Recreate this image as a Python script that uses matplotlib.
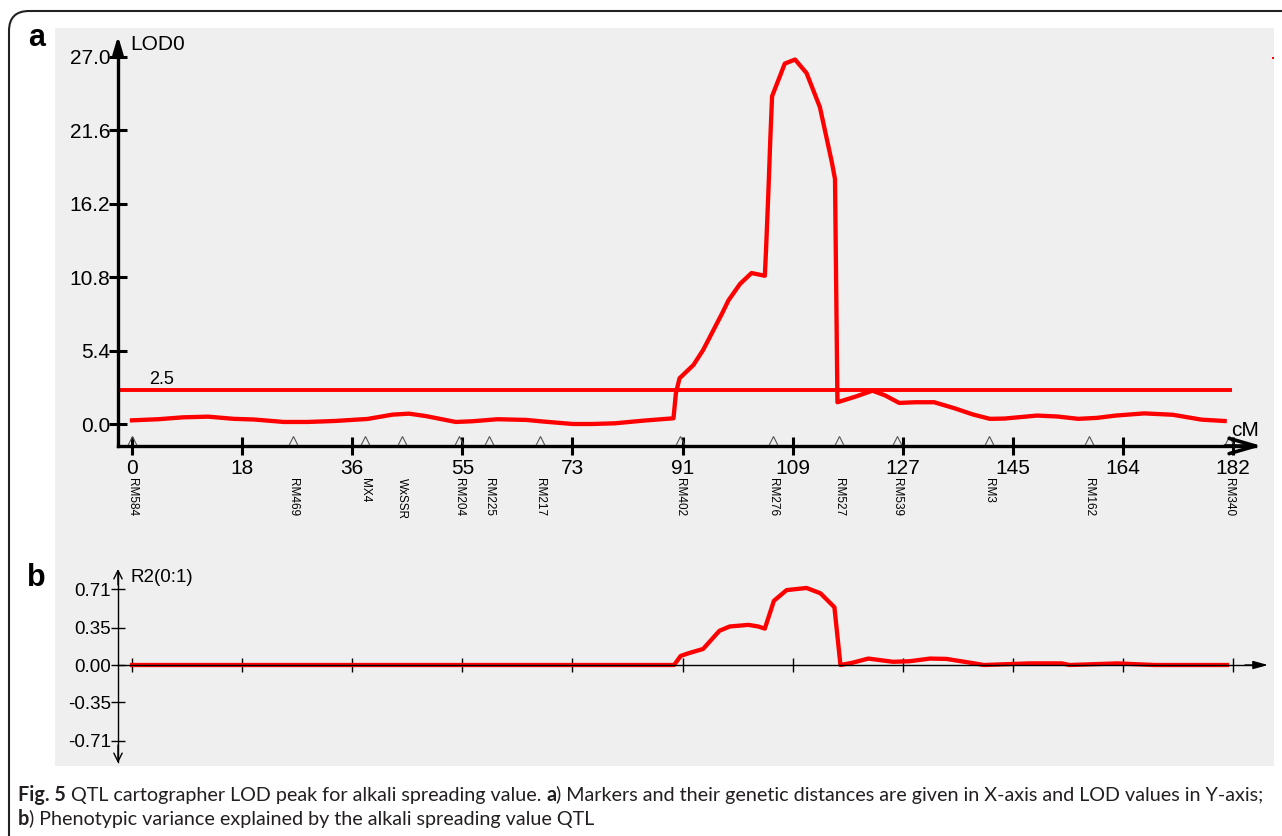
import numpy as np
import matplotlib
matplotlib.use('Agg')
import matplotlib.pyplot as plt
from matplotlib import font_manager as fm
from matplotlib.patches import FancyBboxPatch
from matplotlib.transforms import IdentityTransform

# --- values ---
lod_cm = [0, 4.3, 8.4, 12.6, 16.8, 20.2, 25.1, 29.0, 33.4, 38.9, 43.1, 45.8, 48.6,
          53.5, 56.2, 60.4, 65.2, 68.0, 72.9, 76.0, 79.8, 84.6, 89.5, 89.9, 90.5,
          92.8, 94.4, 96.1, 97.5, 98.6, 100.5, 102.4, 104.6, 104.8, 105.2, 105.5,
          105.8, 106.5, 107.9, 109.6, 111.5, 113.7, 115.7, 116.2, 116.6, 119.5,
          122.4, 124.5, 126.8, 129.5, 132.6, 136.0, 139.0, 141.8, 144.2, 149.6,
          153.0, 156.4, 159.5, 162.6, 167.3, 172.0, 176.8, 180.6]
lod_val = [0.27, 0.35, 0.49, 0.54, 0.38, 0.33, 0.15, 0.15, 0.22, 0.37, 0.69, 0.76, 0.58,
           0.15, 0.20, 0.35, 0.30, 0.18, 0.0, 0.0, 0.05, 0.25, 0.42, 2.26, 3.36,
           4.34, 5.44, 6.9, 8.1, 9.1, 10.3, 11.1, 10.9, 12.8, 17.2, 20.9,
           24.1, 24.9, 26.5, 26.8, 25.8, 23.3, 19.2, 18.0, 1.6, 2.0,
           2.45, 2.1, 1.55, 1.6, 1.6, 1.15, 0.7, 0.38, 0.40, 0.62,
           0.55, 0.38, 0.45, 0.62, 0.78, 0.68, 0.32, 0.22]

r2_cm = [0, 89.6, 90.7, 92.0, 94.4, 97.1, 98.8, 101.9, 103.5, 104.6, 106.1, 108.2,
         111.5, 113.8, 116.1, 117.1, 119.0, 121.7, 125.8, 128.5, 131.9, 134.6,
         138.7, 140.8, 148.3, 153.7, 155.0, 162.9, 169.0, 181.0]
r2_val = [0, 0, 0.085, 0.11, 0.15, 0.32, 0.36, 0.375, 0.36, 0.34, 0.60, 0.70,
          0.72, 0.67, 0.54, 0.0, 0.02, 0.06, 0.03, 0.035, 0.06, 0.057,
          0.02, 0.0, 0.015, 0.015, 0.0, 0.015, 0.0, 0.0]

marker_names = ['RM584', 'RM469', 'MX4', 'WxSSR', 'RM204', 'RM225', 'RM217',
                'RM402', 'RM276', 'RM527', 'RM539', 'RM3', 'RM162', 'RM340']
marker_cm = [0, 26.6, 38.5, 44.6, 54.0, 59.0, 67.5,
             90.5, 106.0, 116.8, 126.4, 141.6, 158.2, 181.4]

x_tick_labels = ['0', '18', '36', '55', '73', '91', '109', '127', '145', '164', '182']
lod_ticks = [0.0, 5.4, 10.8, 16.2, 21.6, 27.0]
lod_tick_labels = ['0.0', '5.4', '10.8', '16.2', '21.6', '27.0']
r2_ticks = [0.71, 0.35, 0.0, -0.35, -0.71]
r2_tick_labels = ['0.71', '0.35', '0.00', '-0.35', '-0.71']
threshold = 2.5
chrom_len = 182

# (text, bold, space after)
caption_1 = [("Fig. 5", True, True),
             ("QTL cartographer LOD peak for alkali spreading value.", False, True),
             ("a", True, False),
             (") Markers and their genetic distances are given in X-axis and LOD values in Y-axis;", False, False)]
caption_2 = [("b", True, False),
             (") Phenotypic variance explained by the alkali spreading value QTL", False, False)]

# --- layout (pixels of the 1282x836 picture) ---
W, H, DPI = 1282, 836, 100
X0_PX, PX_PER_CM = 132, 6.05
A_ZERO_PX, A_PX_PER_UNIT = 424, 13.6
B_ZERO_PX, B_PX_PER_UNIT = 665, 107.0
GREY = '#efefef'
RED = '#ff0000'


def cm_at(px):
    return (px - X0_PX) / PX_PER_CM


def lod_at(py):
    return (A_ZERO_PX - py) / A_PX_PER_UNIT


def r2_at(py):
    return (B_ZERO_PX - py) / B_PX_PER_UNIT


plt.rcParams['font.family'] = ['Liberation Sans', 'DejaVu Sans']
fig = plt.figure(figsize=(W / DPI, H / DPI), dpi=DPI)


def add_axes_px(left, top, right, bottom):
    return fig.add_axes([left / W, 1 - bottom / H, (right - left) / W, (bottom - top) / H])


ax_a = add_axes_px(55, 28, 1274, 520)
ax_b = add_axes_px(55, 520, 1274, 766)
y_axis_cm = cm_at(118)
tick_pos = np.arange(11) * chrom_len / 10

for ax in (ax_a, ax_b):
    ax.set_facecolor(GREY)
    ax.set_xlim(cm_at(55), cm_at(1274))
    ax.spines['top'].set_visible(False)
    ax.spines['right'].set_visible(False)
    ax.spines['left'].set_position(('data', y_axis_cm))
    ax.set_xticks(tick_pos)

# ---- panel a: LOD ----
ax_a.set_ylim(lod_at(520), lod_at(28))
ax_a.spines['bottom'].set_position(('data', lod_at(446)))
ax_a.spines['left'].set_bounds(lod_at(446), lod_at(46))
ax_a.spines['bottom'].set_bounds(y_axis_cm, cm_at(1255))
for s in ('left', 'bottom'):
    ax_a.spines[s].set_linewidth(2.4)
ax_a.set_xticklabels(x_tick_labels)
ax_a.set_yticks(lod_ticks, labels=lod_tick_labels)
ax_a.tick_params(direction='inout', length=13, width=2.2, labelsize=15)
ax_a.tick_params(axis='y', pad=-1)
ax_a.tick_params(axis='x', pad=3)

ax_a.annotate('', xy=(y_axis_cm, lod_at(36)), xytext=(y_axis_cm, lod_at(58)),
              arrowprops=dict(arrowstyle='-|>,head_length=1.0,head_width=0.3',
                              color='black', lw=2.4, shrinkA=0, shrinkB=0))
ax_a.annotate('', xy=(cm_at(1262), lod_at(446)), xytext=(cm_at(1225), lod_at(446)),
              arrowprops=dict(arrowstyle='->,head_length=1.9,head_width=0.55',
                              color='black', lw=2.6, shrinkA=0, shrinkB=0))

ax_a.hlines(threshold, y_axis_cm, cm_at(1232), color=RED, lw=2.8)
ax_a.plot(lod_cm, lod_val, color=RED, lw=3.1, solid_joinstyle='round')
ax_a.plot(marker_cm, [lod_at(441)] * len(marker_cm), ls='none', marker='^',
          mfc='none', mec='#555555', ms=7, mew=0.8, clip_on=False)
for name, x in zip(marker_names, marker_cm):
    ax_a.text(x, lod_at(478), name, rotation=270, ha='center', va='top', fontsize=8.5)

ax_a.text(cm_at(130), lod_at(45), 'LOD0', ha='left', va='center', fontsize=15)
ax_a.text(cm_at(149), lod_at(379), '2.5', ha='left', va='center', fontsize=13)
ax_a.text(cm_at(1231), lod_at(431), 'cM', ha='left', va='center', fontsize=15)
ax_a.plot([cm_at(1273)], [lod_at(58)], 's', color=RED, ms=2, mew=0, clip_on=False)

# ---- panel b: R2 ----
ax_b.set_ylim(r2_at(766), r2_at(520))
ax_b.spines['bottom'].set_position(('data', 0))
ax_b.spines['left'].set_bounds(r2_at(762), r2_at(572))
ax_b.spines['bottom'].set_bounds(y_axis_cm, cm_at(1262))
for s in ('left', 'bottom'):
    ax_b.spines[s].set_linewidth(1.0)
ax_b.set_yticks(r2_ticks, labels=r2_tick_labels)
ax_b.tick_params(direction='inout', length=10, width=1.0, labelsize=13.5)
ax_b.tick_params(axis='y', pad=0)
ax_b.tick_params(axis='x', labelbottom=False)

for y0, y1 in ((r2_at(585), r2_at(569)), (r2_at(745), r2_at(763))):
    ax_b.annotate('', xy=(y_axis_cm, y1), xytext=(y_axis_cm, y0),
                  arrowprops=dict(arrowstyle='->,head_length=0.6,head_width=0.3',
                                  color='black', lw=1.0, shrinkA=0, shrinkB=0))
ax_b.annotate('', xy=(cm_at(1268), 0), xytext=(cm_at(1245), 0),
              arrowprops=dict(arrowstyle='-|>,head_length=0.9,head_width=0.25',
                              color='black', lw=1.0, shrinkA=0, shrinkB=0))

ax_b.plot(r2_cm, r2_val, color=RED, lw=3.1, solid_joinstyle='round')
ax_b.text(cm_at(131), r2_at(578), 'R2(0:1)', ha='left', va='center', fontsize=13.5)

# ---- panel letters ----
fig.text(28 / W, 1 - 38 / H, 'a', fontsize=22, fontweight='bold', va='center', ha='left')
fig.text(27 / W, 1 - 578 / H, 'b', fontsize=22, fontweight='bold', va='center', ha='left')

# ---- frame ----
frame = FancyBboxPatch((9, -60), 1500, (H - 11) + 60,
                       boxstyle='round,pad=0,rounding_size=20',
                       transform=IdentityTransform(), fill=False,
                       edgecolor='#222222', lw=1.5)
fig.add_artist(frame)

# ---- caption ----
available = {f.name for f in fm.fontManager.ttflist}
cap_family = next((f for f in ['Liberation Sans Narrow', 'Lato', 'Roboto', 'Open Sans']
                   if f in available), 'DejaVu Sans')
renderer = fig.canvas.get_renderer()


def text_width(s, size, bold):
    t = fig.text(0, 0, s, fontsize=size, family=cap_family,
                 fontweight='bold' if bold else 'normal')
    w = t.get_window_extent(renderer).width
    t.remove()
    return w


def space_width(size):
    return text_width('x x', size, False) - text_width('xx', size, False)


def runs_width(runs, size):
    total = 0
    for s, bold, gap in runs:
        total += text_width(s, size, bold) + (space_width(size) if gap else 0)
    return total


def draw_runs(runs, x_px, y_px, size):
    x = x_px
    for s, bold, gap in runs:
        t = fig.text(x / W, 1 - y_px / H, s, fontsize=size, family=cap_family,
                     fontweight='bold' if bold else 'normal', va='baseline', ha='left',
                     color='#231f20')
        x += t.get_window_extent(renderer).width + (space_width(size) if gap else 0)


base = 12
cap_size = base * (1258 - 18) / runs_width(caption_1, base)
draw_runs(caption_1, 18, 801, cap_size)
draw_runs(caption_2, 18, 825, cap_size)

fig.savefig('out.png', dpi=DPI)
